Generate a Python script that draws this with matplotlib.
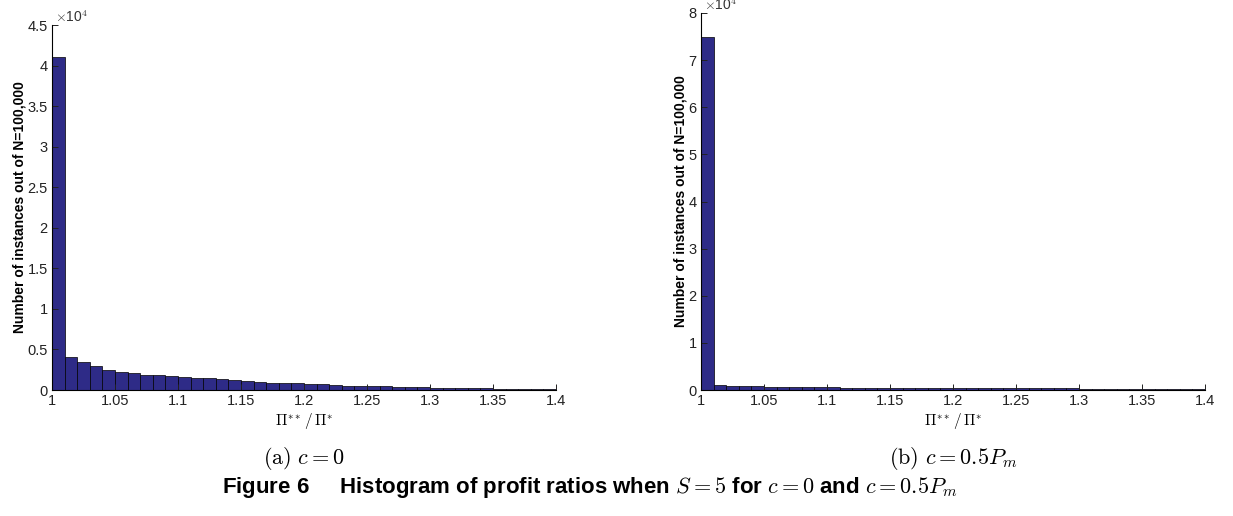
import numpy as np
import matplotlib.pyplot as plt

plt.rcParams['font.family'] = ['Liberation Sans', 'DejaVu Sans']
plt.rcParams['mathtext.fontset'] = 'cm'

# histogram bins of the profit ratio, width 0.01 from 1.00 to 1.40
bin_width = 0.01
bin_left = np.round(np.arange(1.0, 1.4, bin_width), 2)

# counts for c = 0
counts_a = [41100, 4100, 3400, 2900, 2500, 2250, 2050, 1900, 1850, 1750,
            1620, 1500, 1420, 1300, 1180, 1080, 980, 920, 900, 860,
            780, 700, 620, 540, 500, 460, 440, 410, 380, 340,
            300, 270, 240, 210, 190, 170, 150, 130, 110, 90]

# counts for c = 0.5 Pm
counts_b = [74900, 1100, 950, 850, 750, 700, 650, 620, 580, 560,
            540, 520, 500, 480, 470, 460, 450, 440, 430, 420,
            410, 400, 390, 380, 370, 360, 350, 340, 330, 320,
            310, 300, 290, 280, 270, 260, 250, 240, 230, 220]

x_ticks = [1, 1.05, 1.1, 1.15, 1.2, 1.25, 1.3, 1.35, 1.4]
x_ticklabels = ['1', '1.05', '1.1', '1.15', '1.2', '1.25', '1.3', '1.35', '1.4']
y_ticks_a = [0, 0.5, 1, 1.5, 2, 2.5, 3, 3.5, 4, 4.5]
y_ticks_b = [0, 1, 2, 3, 4, 5, 6, 7, 8]

bar_color = '#2e2b87'
W, H = 1233, 516

fig = plt.figure(figsize=(W / 100, H / 100), dpi=100)


def panel(left, top, counts, yticks, caption):
    bottom = 390
    ax = fig.add_axes([left / W, 1 - bottom / H, 504 / W, (bottom - top) / H])
    ax.bar(bin_left, np.array(counts) / 1e4, width=bin_width, align='edge',
           color=bar_color, edgecolor='black', linewidth=0.5)
    ax.set_xlim(1, 1.4)
    ax.set_ylim(yticks[0], yticks[-1])
    ax.set_xticks(x_ticks)
    ax.set_xticklabels(x_ticklabels)
    ax.set_yticks(yticks)
    ax.set_yticklabels(['%g' % t for t in yticks])
    ax.spines['top'].set_visible(False)
    ax.spines['right'].set_visible(False)
    ax.spines['left'].set_linewidth(0.8)
    ax.spines['bottom'].set_linewidth(0.8)
    ax.tick_params(direction='in', length=4, width=0.7, labelsize=10.5,
                   colors='#222222', pad=3)
    ax.set_ylabel('Number of instances out of N=100,000', fontsize=10,
                  fontweight='bold', labelpad=1)
    ax.set_xlabel(r'$\Pi^{**}\,/\,\Pi^{*}$', fontsize=11, labelpad=2)
    ax.text(0.005, 1.0, r'$\times$10$^{4}$', transform=ax.transAxes,
            fontsize=10, color='#333333', ha='left', va='bottom')
    fig.text((left + 252) / W, 1 - 458 / H, caption, fontsize=16,
             ha='center', va='center')
    return ax


panel(52, 25, counts_a, y_ticks_a, r'$\mathrm{(a)}\ c = 0$')
panel(701, 13, counts_b, y_ticks_b, r'$\mathrm{(b)}\ c = 0.5P_m$')

fig.text(590 / W, 1 - 487 / H,
         r'Figure 6     Histogram of profit ratios when $S = 5$ for $c = 0$ and $c = 0.5P_m$',
         fontsize=16, fontweight='bold', ha='center', va='center')

fig.savefig('out.png', dpi=100)
